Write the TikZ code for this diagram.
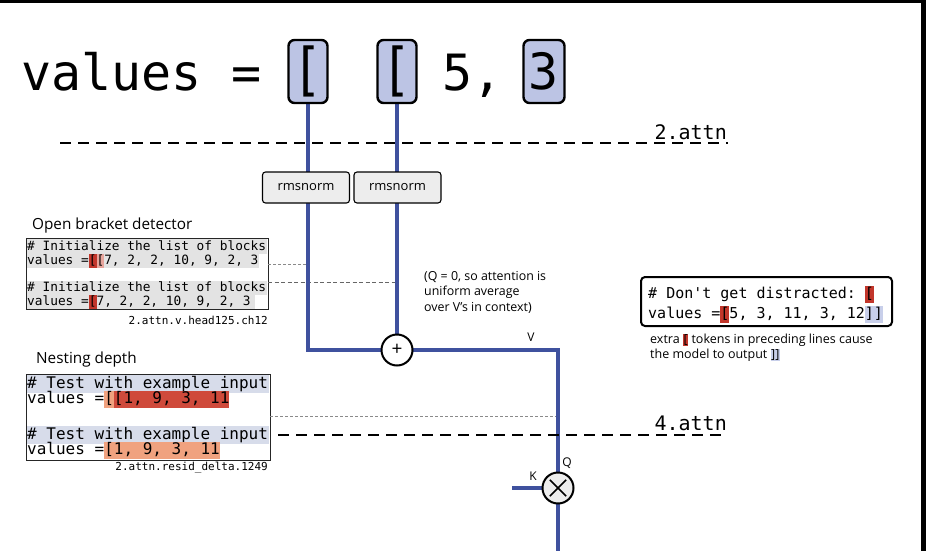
\documentclass[tikz,border=0pt]{standalone}
\usepackage{graphicx}
\usepackage{fontspec}
\setmainfont{Open Sans}
\setmonofont{DejaVu Sans Mono}
\usetikzlibrary{backgrounds}
\definecolor{wireblue}{HTML}{3F519E}
\definecolor{tokfill}{HTML}{BCC4E4}
\definecolor{normfill}{HTML}{EDEDED}
\definecolor{tokred}{HTML}{C2362B}
\definecolor{deepred}{HTML}{CF4A3B}
\definecolor{salmon}{HTML}{F0A27F}
\definecolor{palered}{HTML}{E7A59C}
\definecolor{linegray}{HTML}{E3E3E3}
\definecolor{lineblue}{HTML}{D7DCEA}
\definecolor{closeblue}{HTML}{C8CFEA}
\definecolor{dotgray}{HTML}{8A8A8A}
\newcommand\hlbox[2]{{\setlength{\fboxsep}{0pt}\colorbox{#1}{\strut#2}}}
\newcommand\hlsmall[2]{{\setlength{\fboxsep}{0.6pt}\colorbox{#1}{\vphantom{[}#2}}}
\newcommand\bigcode{\ttfamily\fontsize{50}{60}\selectfont}
\newcommand\codeA{\ttfamily\fontsize{12.8}{14}\selectfont}
\newcommand\codeB{\ttfamily\fontsize{16}{15}\selectfont}
\newcommand\codeC{\ttfamily\fontsize{15}{17}\selectfont}
\newcommand\tagfont{\ttfamily\fontsize{11}{13}\selectfont}
\newcommand\attnfont{\ttfamily\fontsize{20}{24}\selectfont}
\newcommand\tallbr{\scalebox{1}[1.15]{[}}
\begin{document}
\begin{tikzpicture}[x=1pt,y=-1pt,
  tok/.style={draw, line width=2.4pt, rounded corners=6pt, fill=tokfill, inner sep=0pt,
    minimum width=39pt, minimum height=63pt, font=\bigcode},
  normbox/.style={draw, line width=1.1pt, rounded corners=3pt, fill=normfill,
    minimum width=87pt, minimum height=31pt, inner sep=0pt, font=\fontsize{13}{15}\selectfont},
  opnode/.style={circle, draw, line width=2pt, minimum size=31pt, inner sep=0pt, fill=white},
  wire/.style={draw=wireblue, line width=4pt},
  attnline/.style={line width=2.6pt, dash pattern=on 11pt off 7pt},
  dotline/.style={draw=dotgray, line width=0.9pt, dash pattern=on 3pt off 2pt},
  codeline/.style={anchor=base west, inner sep=0pt},
  panel/.style={draw=black!85, line width=1pt},
  sidelabel/.style={anchor=base west, inner sep=0pt, font=\fontsize{15.3}{18}\selectfont},
  tag/.style={anchor=base east, inner sep=0pt, font=\tagfont},
  wirelabel/.style={inner sep=0pt, font=\fontsize{12}{14}\selectfont}]
\useasboundingbox (0,0) rectangle (926,551);
\fill[black] (0,0) rectangle (926,3);
\fill[black] (921,0) rectangle (926,551);

% title row
\node[anchor=base west, inner sep=0pt, font=\bigcode] (vals) at (21,90) {values =};
\node[tok] (b1) at (308,71.5) {\tallbr};
\node[tok] (b2) at (397,71.5) {\tallbr};
\node[anchor=base west, inner sep=0pt, font=\bigcode] (five) at (442,90) {5,};
\node[tok, minimum width=41pt] (b3) at (544,71.5) {3};

% attn layers
\coordinate (a2l) at (60,143);
\coordinate (a2r) at (728,143);
\draw[attnline] (a2l) -- (a2r);
\node[anchor=base east, inner sep=0pt, font=\attnfont] (l2) at (727,139) {2.attn};
\coordinate (a4l) at (278,435);
\coordinate (a4r) at (728,435);
\draw[attnline] (a4l) -- (a4r);
\node[anchor=base east, inner sep=0pt, font=\attnfont] (l4) at (727,430) {4.attn};

% rmsnorm
\node[normbox] (r1) at (306,187.5) {rmsnorm};
\node[normbox] (r2) at (397.5,187.5) {rmsnorm};

% operators
\node[opnode, font=\fontsize{19}{19}\selectfont] (plus) at (397,350) {+};
\node[opnode, fill=normfill] (mult) at (558,488) {};
\draw[line width=1.6pt, shorten >=5pt, shorten <=5pt] (mult.45) -- (mult.225);
\draw[line width=1.6pt, shorten >=5pt, shorten <=5pt] (mult.135) -- (mult.315);
\coordinate (kin) at (512,488);
\coordinate (outb) at (558,551);

\node[wirelabel] (vlab) at (531,337) {V};
\node[wirelabel] (klab) at (533,476) {K};
\node[wirelabel] (qlab) at (567,463) {Q};

\node[anchor=north west, align=left, inner sep=0pt, font=\fontsize{12.4}{15.5}\selectfont] (qnote) at (424,271)
  {(Q = 0, so attention is\\uniform average\\over V's in context)};

% panel 1
\node[sidelabel] (t1) at (32,229) {Open bracket detector};
\node[codeline, font=\codeA] (p1a) at (27,250) {\# Initialize the list of blocks};
\node[codeline, font=\codeA] (p1b) at (27,264) {values =\hlbox{tokred}{[}\hlbox{palered}{[}7, 2, 2, 10, 9, 2, 3};
\node[codeline, font=\codeA] (p1c) at (27,291) {\# Initialize the list of blocks};
\node[codeline, font=\codeA] (p1d) at (27,305) {values =\hlbox{tokred}{[}7, 2, 2, 10, 9, 2, 3};
\node[tag] (tag1) at (268,324) {2.attn.v.head125.ch12};
\coordinate (p1tr) at (268,264);
\coordinate (p1mr) at (268,282);

% panel 2
\node[sidelabel] (t2) at (36,363) {Nesting depth};
\node[codeline, font=\codeB] (p2a) at (27,388.5) {\# Test with example input};
\node[codeline, font=\codeB] (p2b) at (27,403.5) {values =\hlbox{salmon}{[}\hlbox{deepred}{[1, 9, 3, 11}};
\node[codeline, font=\codeB] (p2c) at (27,439.5) {\# Test with example input};
\node[codeline, font=\codeB] (p2d) at (27,454.5) {values =\hlbox{salmon}{[1, 9, 3, 11}};
\node[tag] (tag2) at (268,470) {2.attn.resid\_delta.1249};
\coordinate (p2r) at (270,416);

% panel 3
\node[codeline, font=\codeC] (p3a) at (648,298) {\# Don't get distracted: \hlbox{tokred}{[}};
\node[codeline, font=\codeC] (p3b) at (648,318) {values =\hlbox{tokred}{[}5, 3, 11, 3, 12\hlbox{closeblue}{]]}};
\draw[line width=2pt, rounded corners=4pt] (641,277) rectangle (892,326);
\node[anchor=north west, align=left, inner sep=0pt, font=\fontsize{12.5}{15}\selectfont] (note3) at (650,334)
  {extra \hlsmall{tokred}{[} tokens in preceding lines cause\\the model to output \hlsmall{closeblue}{]]}};

\begin{scope}[on background layer]
  \fill[linegray] (27,239) rectangle (267,254);
  \fill[linegray] (27,254) rectangle (259,268);
  \fill[linegray] (27,281) rectangle (267,295);
  \fill[linegray] (27,295) rectangle (255,309);
  \draw[panel] (26,238) rectangle (268,309);
  \fill[lineblue] (27,375) rectangle (269,393);
  \fill[lineblue] (27,426) rectangle (269,444);
  \draw[panel] (26,374) rectangle (270,460);
  \draw[dotline] (p1tr) -- (p1tr -| r1.center);
  \draw[dotline, dash pattern=on 4pt off 2.5pt, draw=black!60] (p1mr) -- (p1mr -| plus.center);
  \draw[dotline] (p2r) -- (p2r -| mult.center);
  \draw[wire] (b1.south) -- (b1.south |- plus.center) -- (plus.center);
  \draw[wire] (b2.south) -- (plus.center);
  \draw[wire] (plus.center) -- (plus.center -| mult.center) -- (mult.center);
  \draw[wire, line width=3.4pt] (mult.center) -- (outb);
  \draw[wire] (kin) -- (mult.center);
\end{scope}
\end{tikzpicture}
\end{document}
